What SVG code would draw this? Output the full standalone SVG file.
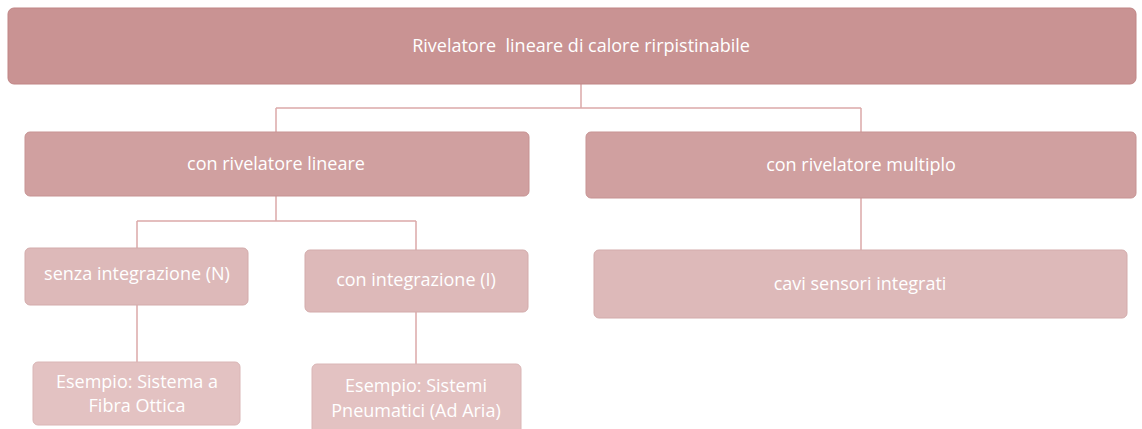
<svg xmlns="http://www.w3.org/2000/svg" width="1142" height="429" viewBox="0 0 1142 429">
<style>
.t{font-family:"Open Sans","Liberation Sans",Arial,sans-serif;font-size:18px;fill:#ffffff;text-anchor:middle;dominant-baseline:central;white-space:pre}
.l1{fill:#c99393;stroke:#c08585;stroke-width:1}
.l2{fill:#d0a0a0;stroke:#c79393;stroke-width:1}
.l3{fill:#ddb9b9;stroke:#d3abab;stroke-width:1}
.l4{fill:#e3c2c2;stroke:#dab6b6;stroke-width:1}
.c{fill:none;stroke:#dba9a9;stroke-width:1.5}
</style>
<rect width="1142" height="429" fill="#ffffff"/>
<g id="connectors">
<path class="c" d="M581 84V108M276 108H861M276 108V132M861 108V132"/>
<path class="c" d="M276 196V221M137 221H416M137 221V248M416 221V250"/>
<path class="c" d="M137 305V362M416 312V364"/>
<path class="c" d="M861 198V250"/>
</g>
<g id="root">
<rect class="l1" x="8" y="8" width="1128" height="76" rx="6"/>
<text class="t" x="581" y="45" xml:space="preserve">Rivelatore  lineare di calore rirpistinabile</text>
</g>
<g id="lineare">
<rect class="l2" x="25" y="132" width="504" height="64" rx="5"/>
<text class="t" x="276" y="163">con rivelatore lineare</text>
</g>
<g id="multiplo">
<rect class="l2" x="586" y="132" width="550" height="66" rx="5"/>
<text class="t" x="861" y="164">con rivelatore multiplo</text>
</g>
<g id="senza">
<rect class="l3" x="25" y="248" width="223" height="57" rx="5"/>
<text class="t" x="137" y="273">senza integrazione (N)</text>
</g>
<g id="con">
<rect class="l3" x="305" y="250" width="223" height="62" rx="5"/>
<text class="t" x="416" y="279">con integrazione (I)</text>
</g>
<g id="cavi">
<rect class="l3" x="594" y="250" width="533" height="68" rx="5"/>
<text class="t" x="860" y="283">cavi sensori integrati</text>
</g>
<g id="fibra">
<rect class="l4" x="33" y="362" width="207" height="63" rx="5"/>
<text class="t" x="137" y="381">Esempio: Sistema a</text>
<text class="t" x="137" y="405">Fibra Ottica</text>
</g>
<g id="pneumatici">
<rect class="l4" x="312" y="364" width="209" height="70" rx="5"/>
<text class="t" x="416" y="385">Esempio: Sistemi</text>
<text class="t" x="416" y="410">Pneumatici (Ad Aria)</text>
</g>
</svg>
